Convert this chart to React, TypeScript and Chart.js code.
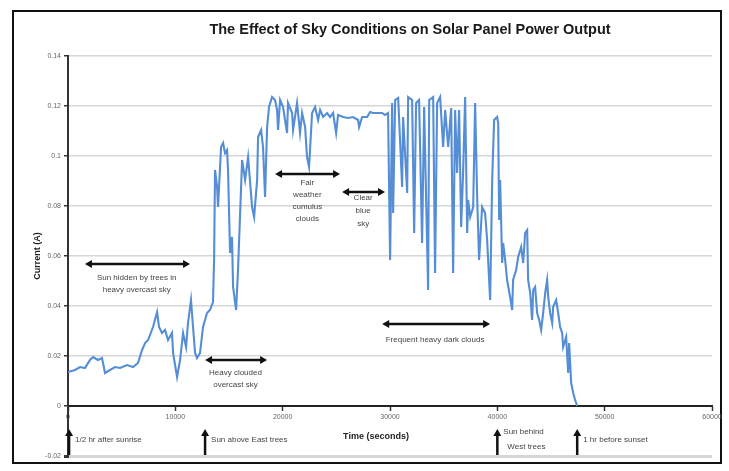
import React, { useEffect, useRef } from "react";
import { Chart, registerables } from "chart.js";

Chart.register(...registerables);

const chartTitle = "The Effect of Sky Conditions on Solar Panel Power Output";
const yAxisTitle = "Current (A)";
const xAxisTitle = "Time (seconds)";

const xTickValues = [0, 10000, 20000, 30000, 40000, 50000, 60000];
const yTickValues = [-0.02, 0, 0.02, 0.04, 0.06, 0.08, 0.1, 0.12, 0.14];

const timeSeconds = [
  0, 650, 1120, 1580, 2050, 2330, 2800, 3170, 3450, 3910,
  4380, 4850, 5500, 6060, 6520, 6900, 7180, 7460, 7920, 8300,
  8480, 8760, 9040, 9320, 9690, 9790, 10160, 10440, 10720, 11000,
  11180, 11460, 11650, 11840, 12020, 12300, 12580, 12950, 13230, 13510,
  13610, 13700, 13890, 13980, 14260, 14450, 14630, 14820, 14910, 15100,
  15280, 15380, 15660, 15840, 16220, 16500, 16780, 17150, 17340, 17620,
  17710, 17990, 18170, 18360, 18550, 18730, 19010, 19290, 19480, 19570,
  19760, 20040, 20220, 20410, 20500, 20880, 20970, 21340, 21620, 21810,
  22090, 22270, 22460, 22740, 23020, 23300, 23490, 23770, 24140, 24420,
  24700, 24980, 25160, 25630, 26100, 26560, 27030, 27120, 27400, 27870,
  28150, 28430, 28800, 29270, 29540, 29820, 30010, 30200, 30290, 30480,
  30760, 31130, 31220, 31600, 31690, 32060, 32250, 32430, 32710, 32990,
  33180, 33550, 33650, 34020, 34200, 34390, 34670, 34950, 35140, 35420,
  35700, 35880, 36070, 36250, 36440, 36630, 36810, 37000, 37190, 37280,
  37470, 37750, 37930, 38120, 38300, 38580, 38860, 39050, 39330, 39520,
  39700, 39980, 40080, 40170, 40260, 40450, 40540, 40730, 40910, 41190,
  41380, 41470, 41750, 41940, 42220, 42410, 42590, 42780, 42870, 43060,
  43240, 43340, 43520, 43710, 43900, 44080, 44270, 44460, 44640, 44740,
  44920, 45110, 45200, 45480, 45670, 45850, 46040, 46130, 46410, 46600,
  46690, 46880, 47070, 47250, 47440,
];

const currentAmps = [
  0.0136, 0.0144, 0.0156, 0.0152, 0.0184, 0.0196, 0.0184, 0.0192, 0.0132, 0.0144,
  0.0156, 0.0152, 0.0164, 0.0156, 0.0172, 0.0224, 0.0252, 0.0264, 0.0316, 0.0376,
  0.0316, 0.0292, 0.0304, 0.0264, 0.0292, 0.0212, 0.0116, 0.0184, 0.0292, 0.0236,
  0.0332, 0.0424, 0.0316, 0.0212, 0.0192, 0.0212, 0.0316, 0.0372, 0.0384, 0.0416,
  0.0584, 0.0944, 0.0876, 0.0796, 0.1036, 0.1052, 0.1012, 0.1024, 0.0944, 0.0612,
  0.0676, 0.0476, 0.0384, 0.0544, 0.0984, 0.0904, 0.0996, 0.0796, 0.0756, 0.0904,
  0.1076, 0.1104, 0.1036, 0.0836, 0.1116, 0.1196, 0.1236, 0.1224, 0.1184, 0.1104,
  0.1224, 0.1196, 0.1144, 0.1092, 0.1212, 0.1172, 0.1104, 0.1212, 0.1092, 0.1172,
  0.1116, 0.0996, 0.0956, 0.1172, 0.1196, 0.1144, 0.1184, 0.1156, 0.1172, 0.1156,
  0.1172, 0.1092, 0.1164, 0.1156, 0.1152, 0.1156, 0.1144, 0.1116, 0.1156, 0.1156,
  0.1176, 0.1172, 0.1172, 0.1172, 0.1164, 0.1172, 0.0584, 0.1212, 0.0772, 0.1224,
  0.1232, 0.0876, 0.1156, 0.0852, 0.1236, 0.1224, 0.0692, 0.1212, 0.1224, 0.0652,
  0.1196, 0.0464, 0.1224, 0.1236, 0.0532, 0.1212, 0.1236, 0.1036, 0.1184, 0.1036,
  0.1192, 0.0532, 0.1184, 0.0932, 0.1184, 0.0716, 0.0932, 0.1236, 0.0692, 0.0824,
  0.0756, 0.0796, 0.1212, 0.0836, 0.0584, 0.0796, 0.0772, 0.0664, 0.0424, 0.0904,
  0.1144, 0.1156, 0.1132, 0.0744, 0.0904, 0.0572, 0.0652, 0.0584, 0.0504, 0.0436,
  0.0384, 0.0504, 0.0544, 0.0596, 0.0636, 0.0572, 0.0692, 0.0704, 0.0504, 0.0452,
  0.0344, 0.0464, 0.0476, 0.0372, 0.0344, 0.0304, 0.0372, 0.0452, 0.0504, 0.0436,
  0.0372, 0.0332, 0.0396, 0.0424, 0.0372, 0.0316, 0.0292, 0.0236, 0.0276, 0.0132,
  0.0252, 0.0092, 0.0052, 0.0024, 0.0,
];

// Double-headed arrows with descriptions (data coordinates)
const spanFrom = [1580, 12770, 19290, 25540, 29270];
const spanTo = [11370, 18550, 25350, 29540, 39330];
const spanY = [0.0568, 0.0184, 0.0928, 0.0856, 0.0328];
const spanTextX = [6400, 15600, 22300, 27500, 34200];
const spanTextY = [
  [0.0512, 0.0464],
  [0.0132, 0.0084],
  [0.0892, 0.0844, 0.0796, 0.0748],
  [0.0832, 0.078, 0.0728],
  [0.0264],
];
const spanTexts = [
  ["Sun hidden by trees in", "heavy overcast sky"],
  ["Heavy clouded", "overcast sky"],
  ["Fair", "weather", "cumulus", "clouds"],
  ["Clear", "blue", "sky"],
  ["Frequent heavy dark clouds"],
];

// Upward arrows under the axis (data coordinates)
const eventX = [100, 12770, 40000, 47440];
const eventTexts = [
  ["1/2 hr after sunrise"],
  ["Sun above East trees"],
  ["Sun behind", "West trees"],
  ["1 hr before sunset"],
];
const eventTextY = [[-0.0136], [-0.0136], [-0.0104, -0.0164], [-0.0136]];
const arrowBottom = -0.0196;
const arrowTop = -0.0092;

const annotationPlugin = {
  id: "skyAnnotations",
  afterDatasetsDraw(chart: any) {
    const { ctx, scales } = chart;
    const x = scales.x;
    const y = scales.y;
    ctx.save();
    ctx.strokeStyle = "#111";
    ctx.fillStyle = "#111";
    ctx.lineWidth = 2.5;

    const head = (px: number, py: number, dx: number, dy: number) => {
      const L = 7;
      const W = 4;
      ctx.beginPath();
      ctx.moveTo(px, py);
      ctx.lineTo(px - dx * L - dy * W, py - dy * L + dx * W);
      ctx.lineTo(px - dx * L + dy * W, py - dy * L - dx * W);
      ctx.closePath();
      ctx.fill();
    };

    for (let i = 0; i < spanFrom.length; i++) {
      const x1 = x.getPixelForValue(spanFrom[i]);
      const x2 = x.getPixelForValue(spanTo[i]);
      const py = y.getPixelForValue(spanY[i]);
      ctx.beginPath();
      ctx.moveTo(x1 + 5, py);
      ctx.lineTo(x2 - 5, py);
      ctx.stroke();
      head(x1, py, -1, 0);
      head(x2, py, 1, 0);
      ctx.font = '8px "Liberation Sans", Arial, sans-serif';
      ctx.fillStyle = "#444";
      ctx.textAlign = "center";
      ctx.textBaseline = "middle";
      spanTexts[i].forEach((t, j) => {
        ctx.fillText(t, x.getPixelForValue(spanTextX[i]), y.getPixelForValue(spanTextY[i][j]));
      });
      ctx.fillStyle = "#111";
    }

    for (let i = 0; i < eventX.length; i++) {
      const px = x.getPixelForValue(eventX[i]);
      const yb = y.getPixelForValue(arrowBottom);
      const yt = y.getPixelForValue(arrowTop);
      ctx.beginPath();
      ctx.moveTo(px, yb);
      ctx.lineTo(px, yt + 5);
      ctx.stroke();
      head(px, yt, 0, -1);
      ctx.font = '8px "Liberation Sans", Arial, sans-serif';
      ctx.fillStyle = "#444";
      ctx.textAlign = "left";
      ctx.textBaseline = "middle";
      eventTexts[i].forEach((t, j) => {
        ctx.fillText(t, px + 6 + (j > 0 ? 4 : 0), y.getPixelForValue(eventTextY[i][j]));
      });
      ctx.fillStyle = "#111";
    }

    // x-axis title (placed as in the original, below the tick labels)
    ctx.font = 'bold 9px "Liberation Sans", Arial, sans-serif';
    ctx.fillStyle = "#222";
    ctx.textAlign = "center";
    ctx.textBaseline = "middle";
    ctx.fillText(xAxisTitle, x.getPixelForValue(28700), y.getPixelForValue(-0.0124));

    // chart title
    ctx.font = 'bold 14.5px "Liberation Sans", Arial, sans-serif';
    ctx.fillStyle = "#1a1a1a";
    ctx.fillText(chartTitle, 410, 30);
    ctx.restore();
  },
};

export default function App() {
  const canvasRef = useRef<HTMLCanvasElement | null>(null);

  useEffect(() => {
    const canvas = canvasRef.current;
    if (!canvas) return;
    const points = timeSeconds.map((t, i) => ({ x: t, y: currentAmps[i] }));
    const chart = new Chart(canvas, {
      type: "line",
      data: {
        datasets: [
          {
            label: "Current",
            data: points,
            borderColor: "#558ed5",
            borderWidth: 2.1,
            pointRadius: 0,
            tension: 0,
            fill: false,
          },
        ],
      },
      options: {
        responsive: false,
        animation: false,
        layout: { padding: { left: 28, right: 17, top: 56, bottom: 15 } },
        plugins: {
          legend: { display: false },
          tooltip: { enabled: false },
          title: { display: false },
        },
        scales: {
          x: {
            type: "linear",
            min: 0,
            max: 60000,
            position: { y: 0 } as any,
            afterBuildTicks: (s: any) => {
              s.ticks = xTickValues.map((v) => ({ value: v }));
            },
            afterFit: (s: any) => {
              s.height = 0;
            },
            ticks: {
              autoSkip: false,
              maxRotation: 0,
              padding: 3,
              color: "#666",
              font: { family: '"Liberation Sans", Arial, sans-serif', size: 7 },
              callback: (v: any) => String(v),
            },
            grid: {
              drawOnChartArea: false,
              drawTicks: true,
              tickLength: 4,
              tickColor: "#333",
              tickWidth: 1.5,
            },
            border: { display: true, color: "#222", width: 2 },
          },
          y: {
            type: "linear",
            min: -0.02,
            max: 0.14,
            afterBuildTicks: (s: any) => {
              s.ticks = yTickValues.map((v) => ({ value: v }));
            },
            afterFit: (s: any) => {
              s.width = 40;
            },
            ticks: {
              padding: 3,
              color: "#666",
              font: { family: '"Liberation Sans", Arial, sans-serif', size: 7 },
              callback: (v: any) => String(v),
            },
            grid: {
              color: "#d6d6d6",
              lineWidth: (c: any) => (c.tick && c.tick.value === -0.02 ? 3 : 1.5),
              drawTicks: true,
              tickLength: 4,
              tickColor: "#333",
            },
            border: { display: true, color: "#333", width: 2 },
            title: {
              display: true,
              text: yAxisTitle,
              color: "#222",
              font: { family: '"Liberation Sans", Arial, sans-serif', size: 9, weight: "bold" },
              padding: { top: 4.6, bottom: 0 },
            },
          },
        },
      },
      plugins: [annotationPlugin],
    });
    return () => chart.destroy();
  }, []);

  return (
    <div style={{ position: "absolute", left: 0, top: 0, width: 729, height: 471, background: "#fff" }}>
      <div
        style={{
          position: "absolute",
          left: 12,
          top: 10,
          width: 710,
          height: 454,
          border: "2px solid #111",
          boxSizing: "border-box",
        }}
      />
      <canvas
        ref={canvasRef}
        width={729}
        height={471}
        style={{ position: "absolute", left: 0, top: 0, width: 729, height: 471 }}
      />
    </div>
  );
}
